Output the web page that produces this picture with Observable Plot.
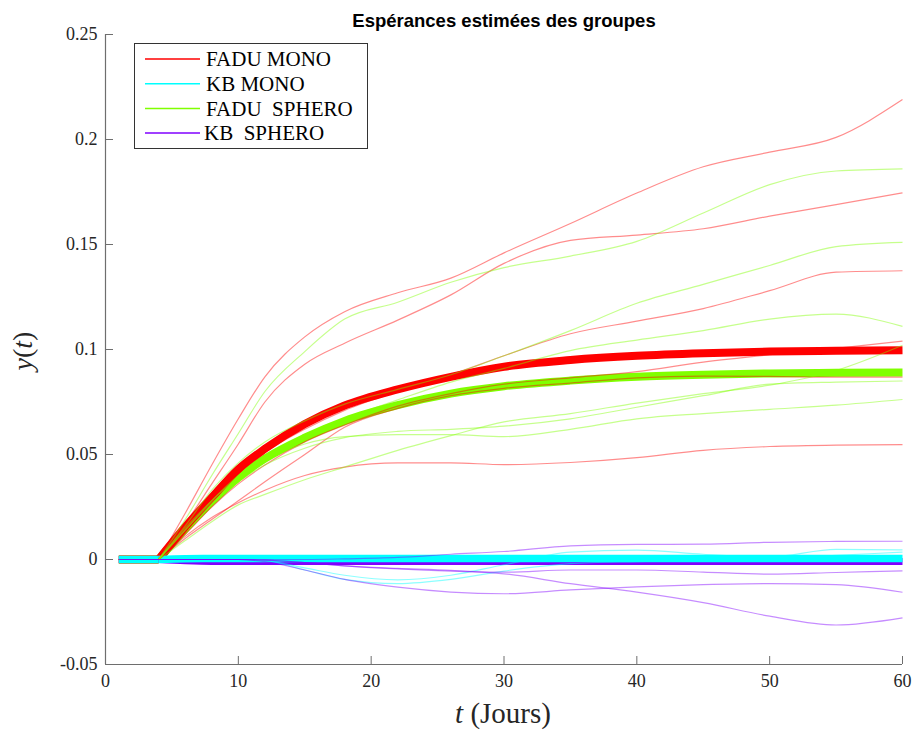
<!DOCTYPE html>
<html><head><meta charset="utf-8">
<script src="https://cdn.jsdelivr.net/npm/d3@7"></script>
<script src="https://cdn.jsdelivr.net/npm/@observablehq/plot@0.6"></script>
<style>body{margin:0;background:#fff} svg{display:block}</style>
</head><body><div id="chart"></div><script>
// ---- data ----
const tDays = [1, 4, 6, 8, 10, 12, 15, 18, 22, 26, 30, 35, 40, 45, 50, 55, 60];

const faduMonoMean   = [0, 0, 0.0155, 0.0295, 0.043, 0.0527, 0.0645, 0.0733, 0.081, 0.087, 0.0918, 0.095, 0.097, 0.0982, 0.099, 0.0994, 0.0996];
const faduSpheroMean = [0, 0, 0.0145, 0.0275, 0.039, 0.048, 0.058, 0.066, 0.0735, 0.079, 0.0825, 0.0852, 0.087, 0.088, 0.0886, 0.0889, 0.089];
const kbMonoMean     = [0, 0, 0.0004, 0.0005, 0.0005, 0.0005, 0.0005, 0.0005, 0.0005, 0.0005, 0.0005, 0.0005, 0.0005, 0.0005, 0.0005, 0.0005, 0.0005];
const kbSpheroMean   = [0, 0, -0.0006, -0.0009, -0.0009, -0.0009, -0.0009, -0.0009, -0.0009, -0.0009, -0.0009, -0.0009, -0.0009, -0.0009, -0.0009, -0.0009, -0.0009];

const faduMonoCurves = [
  [0, 0, 0.022, 0.045, 0.067, 0.087, 0.106, 0.118, 0.127, 0.134, 0.146, 0.160, 0.1745, 0.187, 0.194, 0.201, 0.219],
  [0, 0, 0.017, 0.036, 0.055, 0.075, 0.093, 0.103, 0.114, 0.126, 0.141, 0.152, 0.1545, 0.1575, 0.1635, 0.169, 0.1746],
  [0, 0, 0.015, 0.029, 0.041, 0.051, 0.062, 0.071, 0.080, 0.088, 0.097, 0.1075, 0.1135, 0.1195, 0.128, 0.1368, 0.1375],
  [0, 0, 0.012, 0.025, 0.036, 0.045, 0.056, 0.064, 0.073, 0.079, 0.0835, 0.0865, 0.0895, 0.094, 0.0975, 0.1005, 0.104],
  [0, 0, 0.010, 0.019, 0.028, 0.037, 0.050, 0.063, 0.072, 0.078, 0.0815, 0.084, 0.0865, 0.0873, 0.0872, 0.0868, 0.0868],
  [0, 0, 0.011, 0.020, 0.027, 0.033, 0.040, 0.044, 0.046, 0.046, 0.0452, 0.0462, 0.0485, 0.052, 0.0538, 0.0545, 0.0547]
];
const faduSpheroCurves = [
  [0, 0, 0.019, 0.040, 0.060, 0.080, 0.099, 0.1145, 0.1225, 0.132, 0.139, 0.1445, 0.1515, 0.165, 0.1785, 0.185, 0.186],
  [0, 0, 0.016, 0.033, 0.046, 0.056, 0.066, 0.074, 0.081, 0.088, 0.097, 0.109, 0.122, 0.131, 0.140, 0.149, 0.151],
  [0, 0, 0.014, 0.028, 0.040, 0.049, 0.059, 0.067, 0.076, 0.0845, 0.091, 0.0995, 0.1045, 0.109, 0.1145, 0.1168, 0.111],
  [0, 0, 0.009, 0.018, 0.026, 0.031, 0.038, 0.044, 0.052, 0.059, 0.0655, 0.0695, 0.0745, 0.079, 0.083, 0.090, 0.102],
  [0, 0, 0.014, 0.027, 0.037, 0.045, 0.053, 0.058, 0.061, 0.062, 0.0635, 0.067, 0.0725, 0.078, 0.0835, 0.0845, 0.085],
  [0, 0, 0.015, 0.028, 0.039, 0.047, 0.055, 0.0585, 0.0595, 0.0595, 0.0585, 0.062, 0.067, 0.0695, 0.0715, 0.0735, 0.0762]
];
const kbMonoCurves = [
  [0, 0, 0, 0, 0, -0.0005, -0.004, -0.0075, -0.0097, -0.0075, -0.0025, 0.0035, 0.0045, 0.0025, 0.0012, 0.0048, 0.0046],
  [0, 0, 0, 0, 0, -0.0005, -0.005, -0.0095, -0.0115, -0.0095, -0.0055, -0.002, -0.001, -0.0003, 0.0005, 0.002, 0.0035]
];
const kbSpheroCurves = [
  [0, 0, 0, 0, 0, -0.001, -0.005, -0.0095, -0.0132, -0.0155, -0.0163, -0.0145, -0.013, -0.012, -0.0115, -0.012, -0.0156],
  [0, 0, 0, 0, 0, -0.0003, -0.0015, -0.003, -0.0045, -0.0055, -0.006, -0.005, -0.005, -0.006, -0.007, -0.0062, -0.0054],
  [0, 0, 0, 0, 0, 0, 0, 0.0003, 0.001, 0.0025, 0.0038, 0.0065, 0.0072, 0.0073, 0.0082, 0.0086, 0.0087],
  [0, 0, 0, 0, 0, -0.0003, -0.0015, -0.003, -0.0042, -0.0052, -0.0068, -0.0115, -0.0155, -0.0205, -0.027, -0.0312, -0.0278]
];

const groupNames  = ["FADU MONO", "KB MONO", "FADU  SPHERO", "KB  SPHERO"];
const groupColors = ["#ff0000", "#00ffff", "#80ff00", "#8000ff"];

const xTicks = [0, 10, 20, 30, 40, 50, 60];
const yTicks = [-0.05, 0, 0.05, 0.1, 0.15, 0.2, 0.25];
const yTickLabels = ["-0.05", "0", "0.05", "0.1", "0.15", "0.2", "0.25"];

const titleText = "Espérances estimées des groupes";

// ---- build tables ----
function rows(values, id, split) {
  const out = [];
  values.forEach((v, i) => {
    const t = tDays[i];
    if (split) {
      if (t <= 4) out.push({t, v, seg: id + "-a"});
      if (t >= 4) out.push({t, v, seg: id + "-b"});
    } else out.push({t, v, seg: id});
  });
  return out;
}
const meanRows = {
  fm: rows(faduMonoMean, "fm", true),
  fs: rows(faduSpheroMean, "fs", true),
  km: rows(kbMonoMean, "km", true),
  ks: rows(kbSpheroMean, "ks", true)
};
const thinRows = (curves, key, split) => curves.flatMap((c, j) => rows(c, key + j, split));
const fmThin = thinRows(faduMonoCurves, "fmc", true);
const fsThin = thinRows(faduSpheroCurves, "fsc", true);
const kmThin = thinRows(kbMonoCurves, "kmc", false);
const ksThin = thinRows(kbSpheroCurves, "ksc", false);

const yLab = new Map(yTicks.map((d, i) => [d, yTickLabels[i]]));

const thick = (data, color, w) => Plot.line(data, {x: "t", y: "v", z: "seg", stroke: color, strokeWidth: w, curve: "monotone-x", strokeLinejoin: "round", strokeLinecap: "butt"});
const thin = (data, color) => Plot.line(data, {x: "t", y: "v", z: "seg", stroke: color, strokeWidth: 1.2, strokeOpacity: 0.45, curve: "monotone-x", strokeLinecap: "butt"});

const chart = Plot.plot({
  width: 912, height: 733,
  marginLeft: 105, marginRight: 10, marginTop: 34, marginBottom: 69,
  style: {fontFamily: "'Liberation Serif', serif", fontSize: "18px", background: "white", color: "#262626", overflow: "visible"},
  x: {domain: [0, 60]},
  y: {domain: [-0.05, 0.25]},
  marks: [
    Plot.ruleX([0], {stroke: "#6e6e6e", strokeWidth: 1.2}),
    Plot.ruleY([-0.05], {stroke: "#6e6e6e", strokeWidth: 1.2}),
    Plot.axisY(yTicks, {label: null, tickSize: -8, tickPadding: 16, stroke: "#6e6e6e", fill: "#262626", fontSize: 18, tickFormat: d => yLab.get(d)}),
    Plot.axisX(xTicks, {label: null, tickSize: -8, tickPadding: 18, stroke: "#6e6e6e", fill: "#262626", fontSize: 18, tickFormat: d => String(d)}),
    thick(meanRows.fs, groupColors[2], 8),
    thick(meanRows.fm, groupColors[0], 8),
    thick(meanRows.ks, groupColors[3], 7),
    thick(meanRows.km, groupColors[1], 7.5),
    thin(fmThin, groupColors[0]),
    thin(kmThin, groupColors[1]),
    thin(fsThin, groupColors[2]),
    thin(ksThin, groupColors[3]),
    Plot.text([titleText], {frameAnchor: "top", dy: -8, lineAnchor: "bottom", fontFamily: "'Liberation Sans', Arial, sans-serif", fontWeight: "bold", fontSize: 18.5, fill: "#000"})
  ]
});
document.getElementById("chart").appendChild(chart);

// ---- axis labels & legend ----
const svg = d3.select(chart);
const yl = svg.append("text")
  .attr("transform", "translate(32,351) rotate(-90)")
  .attr("text-anchor", "middle")
  .attr("font-family", "'Liberation Serif', serif").attr("font-size", 28).attr("fill", "#262626");
yl.append("tspan").attr("font-style", "italic").text("y");
yl.append("tspan").text("(");
yl.append("tspan").attr("font-style", "italic").text("t");
yl.append("tspan").text(")");

const xl = svg.append("text")
  .attr("x", 503).attr("y", 723)
  .attr("text-anchor", "middle")
  .attr("font-family", "'Liberation Serif', serif").attr("font-size", 29).attr("fill", "#262626");
xl.append("tspan").attr("font-style", "italic").text("t");
xl.append("tspan").text(" (Jours)");

const lg = svg.append("g").attr("text-anchor", "start");
lg.append("rect").attr("x", 134.5).attr("y", 43.5).attr("width", 233).attr("height", 105)
  .attr("fill", "white").attr("stroke", "#333").attr("stroke-width", 1);
groupNames.forEach((name, i) => {
  const y = 59 + i * 24.7;
  lg.append("line").attr("x1", 145).attr("x2", 200).attr("y1", y).attr("y2", y)
    .attr("stroke", groupColors[i]).attr("stroke-width", 1.5);
  lg.append("text").attr("x", i === 3 ? 204 : 206).attr("y", y).attr("dy", "0.35em")
    .attr("text-anchor", "start")
    .attr("font-family", "'Liberation Serif', serif").attr("font-size", 21)
    .attr("fill", "#000").style("white-space", "pre").text(name);
});
</script></body></html>
